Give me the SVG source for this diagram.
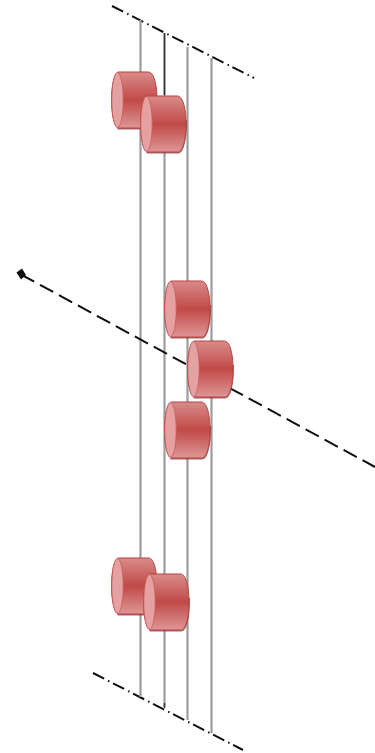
<svg xmlns="http://www.w3.org/2000/svg" width="375" height="753" viewBox="0 0 375 753">
<style>
.rail{fill:none;stroke:#9c9c9c;stroke-width:2.200}
.rail-edge{fill:none;stroke:#333;stroke-width:1.400}
.axis{fill:none;stroke:#111;stroke-width:2}
.cd{stroke-dasharray:12.500 4.500 1.500 4}
.dash{stroke-dasharray:15 6.600}
.body{fill:url(#bodyGrad);stroke:#b8423f;stroke-width:1}
.cap{fill:#e5a1a1;stroke:#c65a5a;stroke-width:.8}
.shade{fill:none;stroke:#7d2a2a;stroke-width:1.600;opacity:.7}
.soft{filter:url(#soft)}
</style>
<defs>
<filter id="soft" filterUnits="userSpaceOnUse" x="0" y="0" width="375" height="753"><feGaussianBlur stdDeviation="0.600"/></filter>
<linearGradient id="bodyGrad" x1="0" y1="0" x2="0" y2="1">
<stop offset="0" stop-color="#d98b8b"/>
<stop offset=".5" stop-color="#c04a47"/>
<stop offset="1" stop-color="#de9696"/>
</linearGradient>
<g id="cyl">
<path class="shade" d="M6 56.600H38C42.500 56.600 45.800 43 45.800 24"/>
<path class="body" d="M7 0H37C42.500 0 45.500 13 45.500 28S42.500 56 37 56H7C3 56 0 43 0 28S3 0 7 0Z"/>
<ellipse class="cap" cx="6" cy="28" rx="5.700" ry="27.500"/>
</g>
</defs>
<g id="connectors" class="soft">
<path class="axis cd" d="M112 6L254 78"/>
<path class="axis cd" d="M93 673L243 750"/>
<path class="rail" d="M140.500 20V697"/>
<path class="rail" d="M164.500 33V707"/>
<path class="rail-edge" d="M164.500 33V95M164.500 703V708"/>
<path class="rail" d="M187.500 47V720"/>
<path class="rail" d="M211.500 58V733"/>
<path class="axis dash" d="M21 274.500L375 467"/>
<path d="M16.500 272.500L22 268.500L26 275L21 279.500Z" fill="#111"/>
</g>
<g id="cylinder-1" class="soft"><use href="#cyl" x="111.500" y="72"/></g>
<g id="cylinder-2" class="soft"><use href="#cyl" x="140.500" y="96"/></g>
<g id="cylinder-3" class="soft"><use href="#cyl" x="164.500" y="281"/></g>
<g id="cylinder-4" class="soft"><use href="#cyl" x="187.500" y="341"/></g>
<g id="cylinder-5" class="soft"><use href="#cyl" x="164.500" y="402"/></g>
<g id="cylinder-6" class="soft"><use href="#cyl" x="111.500" y="558"/></g>
<g id="cylinder-7" class="soft"><use href="#cyl" x="143.500" y="574"/></g>
</svg>
